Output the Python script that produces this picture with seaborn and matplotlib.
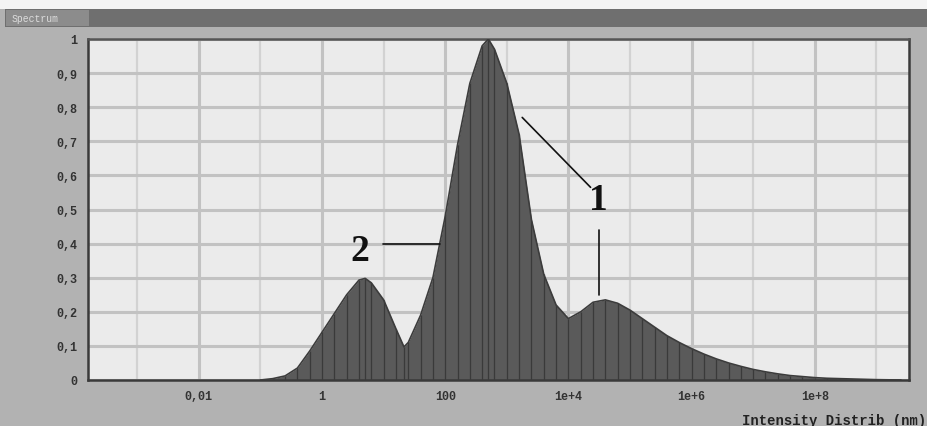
import numpy as np
import pandas as pd
import matplotlib
matplotlib.use("Agg")
import matplotlib.pyplot as plt
from matplotlib.patches import Rectangle
from matplotlib.ticker import FixedLocator, NullFormatter
import seaborn as sns

# ---- data ----
log_size = [-1.0, -0.8, -0.6, -0.4, -0.2, 0.0, 0.2, 0.4, 0.6, 0.7, 0.8, 1.0,
            1.2, 1.33, 1.4, 1.6, 1.8, 2.0, 2.2, 2.4, 2.6, 2.7, 2.8, 3.0, 3.2,
            3.4, 3.6, 3.8, 4.0, 4.2, 4.4, 4.6, 4.8, 5.0, 5.2, 5.4, 5.6, 5.8,
            6.0, 6.2, 6.4, 6.6, 6.8, 7.0, 7.2, 7.4, 7.6, 7.8, 8.0, 8.2, 8.4,
            8.6, 8.8, 9.0, 9.2, 9.4]
intensity = [0.0, 0.004, 0.012, 0.035, 0.085, 0.14, 0.195, 0.25, 0.293, 0.298,
             0.285, 0.235, 0.15, 0.097, 0.11, 0.19, 0.30, 0.48, 0.69, 0.87,
             0.98, 1.0, 0.97, 0.87, 0.72, 0.47, 0.31, 0.22, 0.18, 0.20, 0.228,
             0.235, 0.225, 0.205, 0.18, 0.155, 0.13, 0.11, 0.092, 0.076, 0.062,
             0.05, 0.04, 0.031, 0.024, 0.018, 0.013, 0.01, 0.007, 0.005, 0.004,
             0.003, 0.002, 0.001, 0.0005, 0.0]
x_ticks = [0.01, 1, 100, 1e4, 1e6, 1e8]
x_tick_labels = ["0,01", "1", "100", "1e+4", "1e+6", "1e+8"]
y_ticks = [0, 0.1, 0.2, 0.3, 0.4, 0.5, 0.6, 0.7, 0.8, 0.9, 1.0]
y_tick_labels = ["0", "0,1", "0,2", "0,3", "0,4", "0,5", "0,6", "0,7", "0,8", "0,9", "1"]
x_label = "Intensity Distrib (nm)"
window_title = "Spectrum"

df = pd.DataFrame({"size": 10 ** np.array(log_size), "intensity": intensity})

sns.set_theme(style="white")
mono = ["Liberation Mono", "DejaVu Sans Mono"]

fig = plt.figure(figsize=(9.28, 4.27), dpi=100)
fig.patch.set_facecolor("#b2b2b2")

# window chrome
fig.patches.append(Rectangle((0, 1 - 10 / 427), 1, 10 / 427, transform=fig.transFigure,
                             facecolor="#f4f4f4", edgecolor="none", zorder=0))
fig.patches.append(Rectangle((0.005, 1 - 28 / 427), 0.995, 18 / 427, transform=fig.transFigure,
                             facecolor="#6f6f6f", edgecolor="none", zorder=0))
fig.patches.append(Rectangle((0.006, 1 - 27 / 427), 0.09, 16 / 427, transform=fig.transFigure,
                             facecolor="#8c8c8c", edgecolor="none", zorder=0))
fig.text(0.012, 1 - 19 / 427, window_title, fontsize=7, color="#dddddd",
         family=mono, va="center", ha="left")

ax = fig.add_axes([88 / 928, 46 / 427, 821 / 928, 341 / 427])
ax.set_facecolor("#ebebeb")
ax.set_xscale("log")
ax.set_xlim(10 ** -3.80, 10 ** 9.53)
ax.set_ylim(0, 1.0)

# grid
ax.xaxis.set_major_locator(FixedLocator(x_ticks))
ax.xaxis.set_minor_locator(FixedLocator([10.0 ** k for k in range(-4, 10)]))
ax.set_xticklabels(x_tick_labels)
ax.xaxis.set_minor_formatter(NullFormatter())
ax.set_yticks(y_ticks)
ax.set_yticklabels(y_tick_labels)
ax.grid(True, which="major", axis="both", color="#c2c2c2", linewidth=2.2)
ax.grid(True, which="minor", axis="x", color="#d2d2d2", linewidth=1.6)
ax.set_axisbelow(True)

# distribution
ax.fill_between(df["size"], df["intensity"], 0, color="#5a5a5a", linewidth=0, zorder=2)
ax.vlines(df["size"], 0, df["intensity"], color="#3a3a3a", linewidth=0.9, zorder=3)
sns.lineplot(data=df, x="size", y="intensity", ax=ax, color="#3c3c3c",
             linewidth=1.2, zorder=4)

for s in ax.spines.values():
    s.set_color("#3a3a3a")
    s.set_linewidth(1.8)
ax.spines["top"].set_color("#555555")

ax.tick_params(axis="both", which="both", direction="out", colors="#333333",
               labelsize=8.5, length=4, width=1.2)
ax.tick_params(axis="x", which="minor", length=3)
for lab in ax.get_xticklabels() + ax.get_yticklabels():
    lab.set_family(mono)
    lab.set_fontweight("bold")
ax.set_xlabel("")
ax.set_ylabel("")

# annotations
serif = ["Liberation Serif", "DejaVu Serif"]
ax.text(10 ** 0.62, 0.38, "2", fontsize=27, fontweight="bold", family=serif,
        ha="center", va="center", color="#111111", zorder=6)
ax.plot([10 ** 0.99, 10 ** 1.92], [0.40, 0.40], color="#111111", lw=1.2, zorder=6)
ax.text(10 ** 4.49, 0.53, "1", fontsize=27, fontweight="bold", family=serif,
        ha="center", va="center", color="#111111", zorder=6)
ax.plot([10 ** 3.25, 10 ** 4.36], [0.77, 0.565], color="#111111", lw=1.2, zorder=6)
ax.plot([10 ** 4.49, 10 ** 4.49], [0.44, 0.25], color="#111111", lw=1.2, zorder=6)

fig.text(742 / 928, 1 - 421 / 427, x_label, fontsize=10, family=mono,
         fontweight="bold", color="#222222", ha="left", va="center")

fig.savefig("out.png", dpi=100, facecolor=fig.get_facecolor())
